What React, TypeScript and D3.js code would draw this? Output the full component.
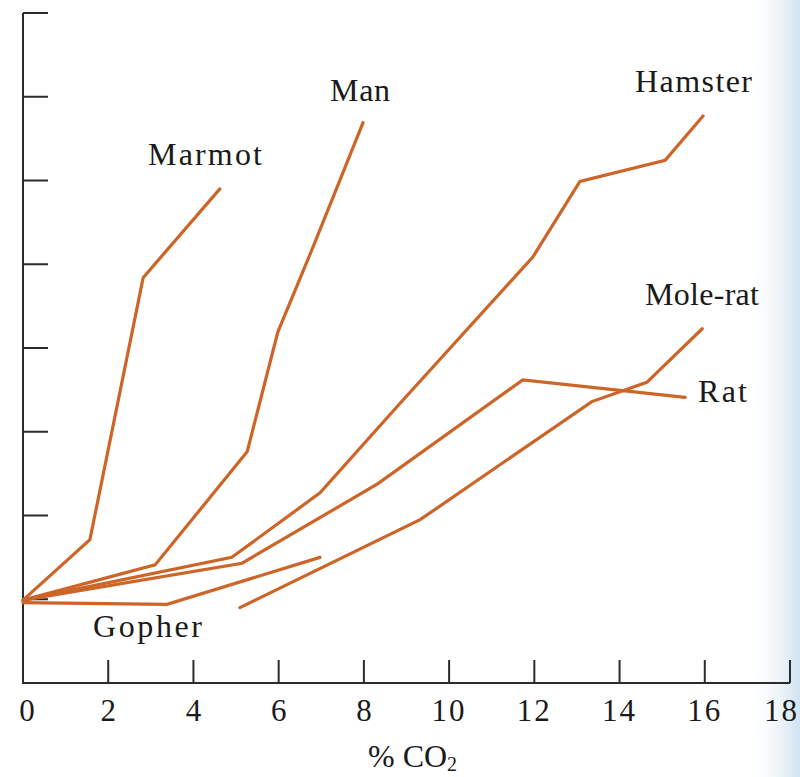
import React from "react";
import * as d3 from "d3";

// Ventilation response vs % CO2 (values in y-tick units)
const xTicks = [0, 2, 4, 6, 8, 10, 12, 14, 16, 18];
const yTicks = [1, 2, 3, 4, 5, 6, 7, 8];

const marmot: [number, number][] = [[0, 0.99], [1.57, 1.71], [2.82, 4.84], [4.62, 5.9]];
const man: [number, number][] = [[0, 0.99], [3.1, 1.41], [5.26, 2.76], [5.98, 4.19], [6.81, 5.21], [7.98, 6.69]];
const hamster: [number, number][] = [[0, 0.99], [4.9, 1.5], [6.97, 2.27], [8.85, 3.34], [11.97, 5.09], [13.07, 5.99], [15.07, 6.24], [15.96, 6.77]];
const rat: [number, number][] = [[0, 0.99], [5.14, 1.43], [8.33, 2.38], [11.73, 3.62], [15.54, 3.41]];
const moleRat: [number, number][] = [[5.09, 0.9], [9.32, 1.95], [13.35, 3.36], [14.64, 3.59], [15.94, 4.23]];
const gopher: [number, number][] = [[0, 0.96], [3.38, 0.94], [6.97, 1.5]];

const seriesNames = ["Marmot", "Man", "Hamster", "Rat", "Mole-rat", "Gopher"];
const seriesData = [marmot, man, hamster, rat, moleRat, gopher];

// label layout (pixels)
const labelLayout: Record<string, { x: number; y: number; w: number }> = {
  Marmot: { x: 148, y: 165, w: 114 },
  Man: { x: 330, y: 101, w: 60 },
  Hamster: { x: 635, y: 92, w: 117 },
  "Mole-rat": { x: 645, y: 305, w: 114 },
  Rat: { x: 698, y: 402, w: 49 },
  Gopher: { x: 93, y: 637, w: 109 },
};

export default function App() {
  const W = 800;
  const H = 777;
  const x = d3.scaleLinear().domain([0, 18]).range([23, 790]);
  const y = d3.scaleLinear().domain([0, 8]).range([683, 13]);
  const line = d3
    .line<[number, number]>()
    .x((d) => x(d[0]))
    .y((d) => y(d[1]));
  const lineColor = "#cd6528";
  const axisColor = "#2b2b2b";
  const textColor = "#1a1a1a";
  const font = "'Liberation Serif', 'Times New Roman', serif";

  return (
    <svg
      width={W}
      height={H}
      style={{ position: "absolute", left: 0, top: 0, background: "#fff" }}
    >
      <defs>
        <linearGradient id="edge" x1="0" x2="1" y1="0" y2="0">
          <stop offset="0" stopColor="#ffffff" stopOpacity="0" />
          <stop offset="1" stopColor="#cfe3f2" stopOpacity="1" />
        </linearGradient>
      </defs>
      <rect x={0} y={0} width={W} height={H} fill="#fff" />
      <rect x={745} y={0} width={55} height={H} fill="url(#edge)" />

      {/* axes */}
      <line x1={x(0)} x2={x(0)} y1={y(8)} y2={y(0)} stroke={axisColor} strokeWidth={2} />
      <line x1={x(0) - 1} x2={x(18)} y1={y(0)} y2={y(0)} stroke={axisColor} strokeWidth={2} />
      {yTicks.map((t) => (
        <line key={"yt" + t} x1={x(0)} x2={x(0) + 25} y1={y(t)} y2={y(t)} stroke={axisColor} strokeWidth={2} />
      ))}
      {xTicks.slice(1).map((t) => (
        <line key={"xt" + t} x1={x(t)} x2={x(t)} y1={y(0)} y2={y(0) - 23} stroke={axisColor} strokeWidth={2} />
      ))}
      {xTicks.map((t) => (
        <text
          key={"xl" + t}
          x={t === 18 ? 799 : x(t) + (t === 0 ? 4 : 0)}
          y={721}
          textAnchor={t === 18 ? "end" : "middle"}
          fontFamily={font}
          fontSize={31}
          letterSpacing={t >= 10 ? 2 : 0}
          fill={textColor}
        >
          {t}
        </text>
      ))}
      <text x={368} y={767} fontFamily={font} fontSize={32} fill={textColor}>
        % CO
        <tspan fontSize={20} dy={4}>
          2
        </tspan>
      </text>

      {/* series */}
      {seriesData.map((d, i) => (
        <path
          key={seriesNames[i]}
          d={line(d) || ""}
          fill="none"
          stroke={lineColor}
          strokeWidth={3.2}
          strokeLinejoin="miter"
          strokeLinecap="round"
        />
      ))}
      {seriesNames.map((n) => {
        const l = labelLayout[n];
        return (
          <text
            key={"lab" + n}
            x={l.x}
            y={l.y}
            fontFamily={font}
            fontSize={32}
            textLength={l.w}
            lengthAdjust="spacing"
            fill={textColor}
          >
            {n}
          </text>
        );
      })}
    </svg>
  );
}
